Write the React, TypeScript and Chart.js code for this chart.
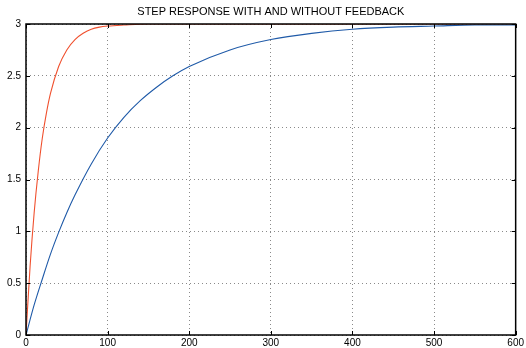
import React, { useEffect, useRef } from "react";
import { Chart, registerables } from "chart.js";

Chart.register(...registerables);

const TITLE = "STEP RESPONSE WITH AND WITHOUT FEEDBACK";

// Feedback (fast) response
const redT = [0, 5, 10, 15, 20, 25, 30, 40, 50, 60, 70, 80, 90, 100, 120, 150, 200, 300, 400, 500, 600];
const redY = [0, 0.66, 1.18, 1.58, 1.9, 2.14, 2.33, 2.59, 2.75, 2.85, 2.91, 2.95, 2.97, 2.98, 2.99, 3.0, 3.0, 3.0, 3.0, 3.0, 3.0];

// Open-loop (slow) response
const blueT = [0, 10, 20, 30, 40, 50, 60, 80, 100, 120, 140, 160, 180, 200, 250, 300, 350, 400, 450, 500, 550, 600];
const blueY = [0, 0.29, 0.54, 0.78, 0.99, 1.18, 1.35, 1.65, 1.9, 2.1, 2.26, 2.39, 2.5, 2.59, 2.75, 2.85, 2.91, 2.95, 2.97, 2.98, 2.99, 2.99];

const xTicks = [0, 100, 200, 300, 400, 500, 600];
const yTicks = [0, 0.5, 1, 1.5, 2, 2.5, 3];

const FONT = "'Liberation Sans', Arial, Helvetica, sans-serif";

const framePlugin = {
  id: "frame",
  afterDraw(chart: any) {
    const { ctx, chartArea: a, scales } = chart;
    ctx.save();
    ctx.strokeStyle = "#000";
    ctx.lineWidth = 1;
    const tl = 4;
    ctx.beginPath();
    for (const v of xTicks) {
      const x = Math.round(scales.x.getPixelForValue(v)) + 0.5;
      ctx.moveTo(x, a.bottom);
      ctx.lineTo(x, a.bottom - tl);
      ctx.moveTo(x, a.top);
      ctx.lineTo(x, a.top + tl);
    }
    for (const v of yTicks) {
      const y = Math.round(scales.y.getPixelForValue(v)) + 0.5;
      ctx.moveTo(a.left, y);
      ctx.lineTo(a.left + tl, y);
      ctx.moveTo(a.right, y);
      ctx.lineTo(a.right - tl, y);
    }
    ctx.stroke();
    ctx.lineWidth = 1.5;
    ctx.strokeRect(a.left, a.top, a.right - a.left, a.bottom - a.top);
    ctx.fillStyle = "#000";
    ctx.font = `11px ${FONT}`;
    ctx.textAlign = "center";
    ctx.textBaseline = "middle";
    ctx.fillText(TITLE, (a.left + a.right) / 2, 12);
    ctx.restore();
  },
};

export default function App() {
  const ref = useRef<HTMLCanvasElement>(null);
  useEffect(() => {
    document.body.style.margin = "0";
    const red = redT.map((t, i) => ({ x: t, y: redY[i] }));
    const blue = blueT.map((t, i) => ({ x: t, y: blueY[i] }));
    const chart = new Chart(ref.current!, {
      type: "line",
      data: {
        datasets: [
          {
            data: blue,
            borderColor: "#1f5aa8",
            borderWidth: 1.1,
            pointRadius: 0,
            cubicInterpolationMode: "monotone",
            fill: false,
          },
          {
            data: red,
            borderColor: "#f0502e",
            borderWidth: 1.1,
            pointRadius: 0,
            cubicInterpolationMode: "monotone",
            fill: false,
          },
        ],
      },
      options: {
        animation: false,
        responsive: false,
        layout: { padding: { top: 24, right: 7, left: 0, bottom: 0 } },
        plugins: { legend: { display: false }, tooltip: { enabled: false }, title: { display: false } },
        scales: {
          x: {
            type: "linear",
            min: 0,
            max: 600,
            afterFit: (s: any) => {
              s.height = 13;
            },
            afterBuildTicks: (s: any) => {
              s.ticks = xTicks.map((v) => ({ value: v }));
            },
            border: { display: false, dash: [1, 3] },
            grid: { color: "#8a8a8a", drawTicks: false, lineWidth: 1 },
            ticks: { padding: 2, color: "#000", font: { family: FONT, size: 10 }, maxRotation: 0, callback: (v: any) => String(v) },
          },
          y: {
            type: "linear",
            min: 0,
            max: 3,
            afterFit: (s: any) => {
              s.width = 26;
            },
            afterBuildTicks: (s: any) => {
              s.ticks = yTicks.map((v) => ({ value: v }));
            },
            border: { display: false, dash: [1, 3] },
            grid: { color: "#8a8a8a", drawTicks: false, lineWidth: 1 },
            ticks: { padding: 5, color: "#000", font: { family: FONT, size: 10 }, callback: (v: any) => String(v) },
          },
        },
      },
      plugins: [framePlugin],
    });
    return () => chart.destroy();
  }, []);
  return (
    <div style={{ width: 526, height: 348 }}>
      <canvas ref={ref} width={526} height={348} style={{ display: "block" }} />
    </div>
  );
}
